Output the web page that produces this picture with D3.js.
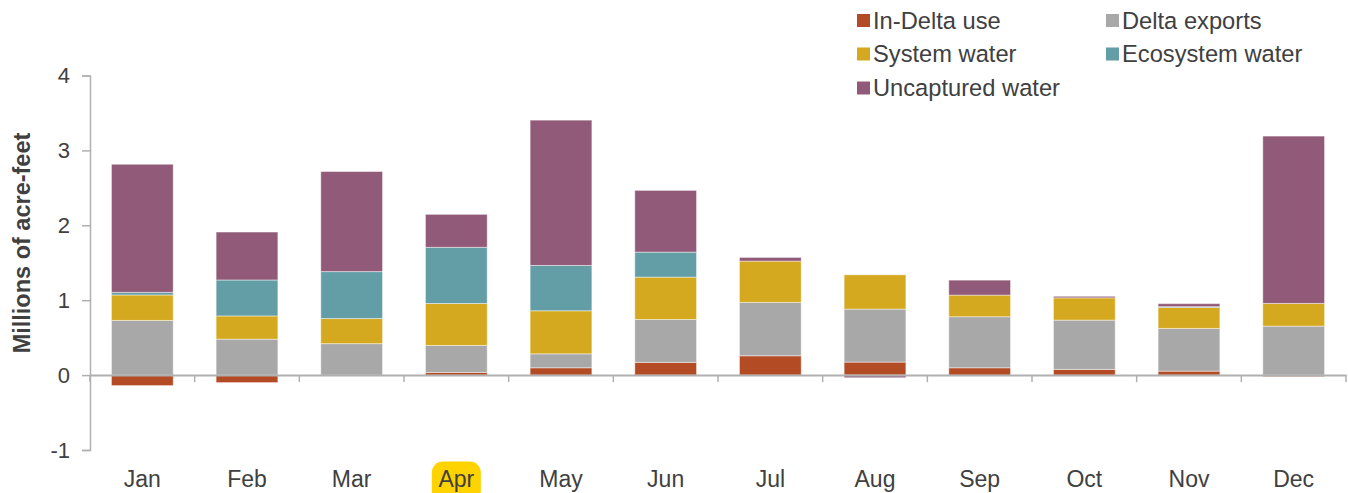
<!DOCTYPE html>
<html>
<head>
<meta charset="utf-8">
<script src="https://cdn.jsdelivr.net/npm/d3@7"></script>
<style>
  html, body { margin: 0; padding: 0; background: #fff; }
  svg { display: block; }
  text { font-family: "Liberation Sans", Arial, sans-serif; fill: #404040; }
</style>
</head>
<body>
<svg id="chart" width="1348" height="493"></svg>
<script>
const months = ["Jan","Feb","Mar","Apr","May","Jun","Jul","Aug","Sep","Oct","Nov","Dec"];
const seriesNames = ["In-Delta use","Delta exports","System water","Ecosystem water","Uncaptured water"];
const inDelta     = [-0.14, -0.10, -0.01, 0.036, 0.098, 0.17, 0.258, 0.174, 0.098, 0.076, 0.053, -0.02];
const exportsD    = [0.73, 0.48, 0.42, 0.36, 0.186, 0.573, 0.713, 0.707, 0.681, 0.658, 0.57, 0.654];
const systemW     = [0.34, 0.31, 0.335, 0.56, 0.575, 0.565, 0.551, 0.458, 0.289, 0.298, 0.281, 0.303];
const ecosystemW  = [0.035, 0.48, 0.627, 0.75, 0.605, 0.334, 0, 0, 0, 0, 0.01, 0];
const uncaptured  = [1.71, 0.64, 1.336, 0.44, 1.94, 0.824, 0.049, -0.035, 0.20, 0.02, 0.04, 2.234];
const yTicks = [-1, 0, 1, 2, 3, 4];
const yTickLabels = ["-1", "0", "1", "2", "3", "4"];
const colors = ["#B34B25", "#A8A8A8", "#D4A91F", "#639EA6", "#915A78"];
const highlightMonth = "Apr";

const svg = d3.select("#chart");
const x0 = 90, x1 = 1346, yTop = 75.5, yBot = 450;

const x = d3.scaleBand().domain(months).range([x0, x1]).paddingInner(0.41).paddingOuter(0.205);
const xb = d3.scaleBand().domain(months).range([x0, x1]);
const y = d3.scaleLinear().domain([-1, 4]).range([yBot, yTop]);

const table = months.map((m, i) => ({
  month: m,
  "In-Delta use": inDelta[i],
  "Delta exports": exportsD[i],
  "System water": systemW[i],
  "Ecosystem water": ecosystemW[i],
  "Uncaptured water": uncaptured[i]
}));
const stacked = d3.stack().keys(seriesNames).offset(d3.stackOffsetDiverging)(table);

// Apr highlight
svg.append("rect")
  .attr("x", xb(highlightMonth) + xb.bandwidth()/2 - 24.5)
  .attr("y", 461.5).attr("width", 49).attr("height", 40)
  .attr("rx", 11).attr("fill", "#FFD300");

// bars
svg.append("g").selectAll("g").data(stacked).join("g")
  .attr("fill", (d, i) => colors[i])
  .selectAll("rect").data(d => d).join("rect")
  .attr("x", d => x(d.data.month))
  .attr("width", x.bandwidth())
  .attr("y", d => y(Math.max(d[0], d[1])))
  .attr("height", d => Math.abs(y(d[0]) - y(d[1])))
  .attr("stroke", "rgba(255,255,255,0.45)").attr("stroke-width", 1);

const axisColor = "#B0B0B0";
// y axis
const yAxis = svg.append("g").attr("transform", `translate(${x0},0)`)
  .call(d3.axisLeft(y).tickValues(yTicks).tickSize(8).tickPadding(12)
    .tickFormat((d, i) => yTickLabels[i]));
yAxis.select(".domain").attr("stroke", axisColor).attr("stroke-width", 1.5);
yAxis.selectAll(".tick line").attr("stroke", axisColor).attr("stroke-width", 1.5);
yAxis.selectAll(".tick text").attr("font-size", 22).attr("fill", "#404040")
  .style("font-family", '"Liberation Sans", Arial, sans-serif');

// zero line + x ticks
const xAxis = svg.append("g").attr("transform", `translate(0,${y(0)})`)
  .call(d3.axisBottom(xb).tickSize(0).tickFormat(""));
xAxis.select(".domain").attr("stroke", axisColor).attr("stroke-width", 2);
xAxis.selectAll(".tick").remove();
svg.append("g").selectAll("line").data(d3.range(months.length + 1)).join("line")
  .attr("x1", i => x0 + i * xb.step()).attr("x2", i => x0 + i * xb.step())
  .attr("y1", y(0)).attr("y2", y(0) + 7)
  .attr("stroke", axisColor).attr("stroke-width", 1.5);

// month labels
svg.append("g").selectAll("text").data(months).join("text")
  .attr("x", d => xb(d) + xb.bandwidth()/2)
  .attr("y", 487)
  .attr("text-anchor", "middle")
  .attr("font-size", 23)
  .text(d => d);

// y title
svg.append("text")
  .attr("transform", "translate(30,243) rotate(-90)")
  .attr("text-anchor", "middle")
  .attr("font-size", 23.5).attr("font-weight", "bold")
  .text("Millions of acre-feet");

// legend
const legendPos = [
  {x: 857, y: 14}, {x: 1106, y: 14},
  {x: 857, y: 47.5}, {x: 1106, y: 47.5},
  {x: 857, y: 81.5}
];
const lg = svg.append("g").selectAll("g").data(seriesNames).join("g")
  .attr("transform", (d, i) => `translate(${legendPos[i].x},${legendPos[i].y})`);
lg.append("rect").attr("width", 13).attr("height", 13).attr("fill", (d, i) => colors[i]);
lg.append("text").attr("x", 16).attr("y", 14.5).attr("font-size", 23.7).text(d => d);
</script>
</body>
</html>
